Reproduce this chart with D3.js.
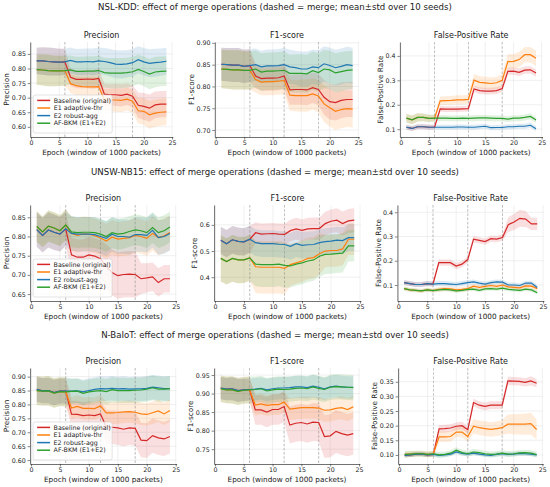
<!DOCTYPE html>
<html>
<head>
<meta charset="utf-8">
<script src="https://cdn.jsdelivr.net/npm/d3@7/dist/d3.min.js"></script>
<style>
body { margin: 0; background: #fff; }
text { font-family: "DejaVu Sans", sans-serif; fill: #222; }
</style>
</head>
<body>
<svg width="550" height="487"></svg>
<script>
var epochs = [1,2,3,4,5,6,7,8,9,10,11,12,13,14,15,16,17,18,19,20,21,22,23,24];
var mergeEpochs = [6, 12, 18];
var xTicks = [0, 5, 10, 15, 20, 25];
var seriesNames = ["Baseline (original)", "E1 adaptive-thr", "E2 robust-agg", "AF-BKM (E1+E2)"];
var seriesColors = ["#d62728", "#ff7f0e", "#1f77b4", "#2ca02c"];
var datasets = ["NSL-KDD", "UNSW-NB15", "N-BaIoT"];
var metrics = ["Precision", "F1-score", "False-Positive Rate"];

// each panel: [baseline, e1, e2, af-bkm]
var nslPrecMean = [
  [0.826,0.826,0.824,0.823,0.822,0.823,0.770,0.763,0.763,0.764,0.763,0.766,0.712,0.710,0.710,0.708,0.712,0.705,0.674,0.670,0.664,0.675,0.678,0.678],
  [0.796,0.795,0.793,0.792,0.792,0.793,0.748,0.741,0.738,0.737,0.737,0.738,0.693,0.692,0.692,0.691,0.695,0.688,0.655,0.653,0.641,0.647,0.650,0.651],
  [0.826,0.826,0.824,0.823,0.822,0.823,0.828,0.823,0.823,0.824,0.823,0.826,0.824,0.820,0.815,0.814,0.816,0.820,0.830,0.823,0.818,0.820,0.822,0.825],
  [0.796,0.795,0.793,0.792,0.792,0.793,0.795,0.790,0.790,0.791,0.791,0.793,0.786,0.784,0.784,0.784,0.786,0.789,0.797,0.790,0.781,0.788,0.790,0.791]
];
var nslPrecSd = [
  [0.045,0.047,0.048,0.047,0.046,0.045,0.030,0.031,0.031,0.032,0.032,0.033,0.036,0.037,0.038,0.038,0.037,0.038,0.044,0.046,0.047,0.046,0.045,0.045],
  [0.052,0.053,0.054,0.053,0.052,0.052,0.032,0.032,0.033,0.033,0.034,0.034,0.038,0.039,0.040,0.040,0.039,0.040,0.044,0.046,0.048,0.047,0.046,0.046],
  [0.045,0.047,0.048,0.047,0.046,0.045,0.044,0.044,0.045,0.045,0.046,0.046,0.046,0.047,0.048,0.048,0.047,0.047,0.046,0.047,0.048,0.048,0.047,0.046],
  [0.052,0.053,0.054,0.053,0.052,0.052,0.050,0.050,0.050,0.051,0.051,0.051,0.051,0.052,0.052,0.052,0.051,0.051,0.050,0.051,0.052,0.052,0.051,0.051]
];
var nslF1Mean = [
  [0.851,0.850,0.849,0.849,0.846,0.848,0.824,0.818,0.819,0.819,0.820,0.824,0.792,0.793,0.793,0.792,0.797,0.793,0.775,0.765,0.763,0.768,0.770,0.770],
  [0.840,0.839,0.838,0.838,0.837,0.837,0.816,0.810,0.811,0.811,0.812,0.814,0.780,0.779,0.779,0.779,0.783,0.778,0.760,0.751,0.743,0.747,0.749,0.748],
  [0.851,0.850,0.849,0.849,0.846,0.848,0.850,0.845,0.847,0.847,0.848,0.850,0.845,0.843,0.840,0.840,0.845,0.843,0.852,0.848,0.843,0.846,0.850,0.848],
  [0.840,0.839,0.838,0.838,0.837,0.837,0.840,0.833,0.835,0.835,0.836,0.837,0.830,0.830,0.830,0.829,0.836,0.832,0.840,0.838,0.831,0.834,0.837,0.838]
];
var nslF1Sd = [
  [0.038,0.038,0.039,0.039,0.038,0.038,0.028,0.028,0.029,0.029,0.029,0.030,0.034,0.035,0.035,0.035,0.035,0.036,0.040,0.041,0.041,0.041,0.040,0.040],
  [0.044,0.044,0.045,0.045,0.044,0.044,0.030,0.030,0.031,0.031,0.031,0.032,0.036,0.036,0.037,0.037,0.036,0.037,0.042,0.043,0.043,0.043,0.042,0.042],
  [0.038,0.038,0.039,0.039,0.038,0.038,0.037,0.037,0.038,0.038,0.038,0.038,0.039,0.039,0.040,0.040,0.040,0.040,0.040,0.041,0.041,0.041,0.041,0.041],
  [0.044,0.044,0.045,0.045,0.044,0.044,0.043,0.043,0.043,0.043,0.043,0.043,0.043,0.044,0.044,0.044,0.044,0.044,0.044,0.044,0.045,0.045,0.044,0.044]
];
var nslFprMean = [
  [0.108,0.103,0.110,0.110,0.108,0.108,0.183,0.182,0.182,0.182,0.183,0.184,0.265,0.258,0.256,0.256,0.258,0.266,0.337,0.338,0.333,0.342,0.343,0.330],
  [0.145,0.138,0.148,0.148,0.144,0.145,0.216,0.217,0.218,0.220,0.220,0.222,0.301,0.292,0.290,0.287,0.290,0.300,0.377,0.378,0.385,0.405,0.405,0.390],
  [0.108,0.103,0.110,0.110,0.108,0.108,0.108,0.108,0.108,0.109,0.109,0.108,0.108,0.110,0.112,0.106,0.107,0.107,0.110,0.110,0.112,0.112,0.116,0.102],
  [0.145,0.138,0.148,0.148,0.144,0.145,0.145,0.145,0.144,0.144,0.145,0.144,0.145,0.146,0.146,0.145,0.144,0.144,0.141,0.145,0.145,0.148,0.152,0.138]
];
var nslFprSd = [
  [0.010,0.010,0.010,0.010,0.010,0.010,0.012,0.012,0.012,0.012,0.012,0.012,0.014,0.014,0.014,0.014,0.014,0.014,0.014,0.015,0.015,0.015,0.015,0.014],
  [0.018,0.018,0.017,0.016,0.015,0.014,0.018,0.018,0.018,0.019,0.019,0.019,0.025,0.025,0.025,0.025,0.025,0.025,0.030,0.030,0.031,0.032,0.032,0.031],
  [0.010,0.010,0.010,0.010,0.010,0.010,0.010,0.010,0.010,0.010,0.010,0.010,0.010,0.010,0.010,0.010,0.010,0.010,0.010,0.010,0.010,0.010,0.010,0.010],
  [0.018,0.018,0.017,0.016,0.015,0.014,0.013,0.013,0.012,0.012,0.012,0.012,0.012,0.012,0.012,0.012,0.012,0.012,0.012,0.012,0.012,0.012,0.012,0.012]
];
var unswPrecMean = [
  [0.818,0.803,0.817,0.811,0.806,0.820,0.752,0.746,0.746,0.752,0.749,0.742,0.722,0.706,0.698,0.701,0.702,0.701,0.690,0.692,0.695,0.680,0.690,0.690],
  [0.826,0.812,0.827,0.822,0.815,0.830,0.808,0.803,0.807,0.806,0.802,0.796,0.788,0.798,0.793,0.795,0.797,0.803,0.800,0.795,0.808,0.797,0.802,0.810],
  [0.818,0.803,0.817,0.811,0.806,0.820,0.808,0.806,0.806,0.806,0.805,0.800,0.795,0.806,0.800,0.800,0.798,0.805,0.805,0.803,0.816,0.797,0.800,0.808],
  [0.826,0.812,0.827,0.822,0.815,0.830,0.812,0.810,0.811,0.811,0.810,0.806,0.800,0.810,0.806,0.808,0.813,0.817,0.815,0.810,0.823,0.810,0.815,0.825]
];
var unswPrecSd = [
  [0.045,0.045,0.046,0.046,0.045,0.045,0.045,0.046,0.046,0.047,0.047,0.048,0.058,0.060,0.060,0.060,0.060,0.060,0.040,0.038,0.037,0.037,0.036,0.036],
  [0.040,0.040,0.041,0.041,0.040,0.040,0.045,0.045,0.045,0.045,0.045,0.045,0.045,0.045,0.045,0.045,0.045,0.045,0.045,0.045,0.045,0.045,0.045,0.045],
  [0.045,0.045,0.046,0.046,0.045,0.045,0.045,0.045,0.045,0.045,0.045,0.045,0.045,0.045,0.045,0.045,0.045,0.045,0.045,0.045,0.045,0.045,0.045,0.045],
  [0.040,0.040,0.041,0.041,0.040,0.040,0.040,0.040,0.040,0.040,0.040,0.040,0.040,0.040,0.040,0.040,0.040,0.040,0.040,0.040,0.040,0.040,0.040,0.040]
];
var unswF1Mean = [
  [0.541,0.528,0.543,0.537,0.535,0.545,0.570,0.565,0.566,0.567,0.565,0.564,0.578,0.585,0.579,0.585,0.586,0.586,0.605,0.614,0.618,0.605,0.615,0.618],
  [0.472,0.460,0.472,0.466,0.466,0.474,0.440,0.438,0.438,0.438,0.438,0.434,0.448,0.455,0.462,0.472,0.475,0.490,0.500,0.502,0.502,0.508,0.545,0.545],
  [0.541,0.528,0.543,0.537,0.535,0.545,0.532,0.528,0.528,0.528,0.526,0.525,0.518,0.528,0.522,0.524,0.525,0.532,0.536,0.538,0.542,0.540,0.551,0.551],
  [0.472,0.460,0.472,0.466,0.466,0.474,0.450,0.448,0.448,0.448,0.450,0.445,0.443,0.450,0.455,0.462,0.466,0.480,0.487,0.488,0.490,0.492,0.520,0.520]
];
var unswF1Sd = [
  [0.052,0.052,0.053,0.053,0.052,0.052,0.040,0.040,0.040,0.040,0.040,0.040,0.042,0.042,0.042,0.042,0.042,0.042,0.045,0.045,0.046,0.046,0.046,0.046],
  [0.088,0.088,0.089,0.089,0.088,0.088,0.100,0.100,0.100,0.100,0.100,0.100,0.082,0.080,0.080,0.080,0.080,0.080,0.062,0.062,0.062,0.062,0.060,0.060],
  [0.052,0.052,0.053,0.053,0.052,0.052,0.051,0.051,0.051,0.051,0.051,0.051,0.051,0.051,0.051,0.051,0.051,0.051,0.051,0.051,0.051,0.051,0.051,0.051],
  [0.088,0.088,0.089,0.089,0.088,0.088,0.085,0.085,0.085,0.085,0.085,0.085,0.082,0.082,0.082,0.080,0.080,0.078,0.075,0.075,0.074,0.074,0.060,0.060]
];
var unswFprMean = [
  [0.110,0.106,0.102,0.102,0.106,0.104,0.192,0.192,0.192,0.178,0.186,0.205,0.289,0.284,0.279,0.291,0.289,0.296,0.349,0.360,0.375,0.372,0.352,0.352],
  [0.085,0.080,0.078,0.076,0.080,0.077,0.082,0.085,0.084,0.080,0.082,0.085,0.095,0.090,0.094,0.098,0.094,0.100,0.092,0.090,0.088,0.096,0.095,0.085],
  [0.110,0.106,0.102,0.102,0.106,0.104,0.106,0.106,0.104,0.102,0.106,0.110,0.113,0.108,0.104,0.110,0.113,0.112,0.100,0.100,0.098,0.108,0.108,0.090],
  [0.085,0.080,0.078,0.076,0.080,0.077,0.080,0.082,0.080,0.076,0.078,0.082,0.083,0.078,0.084,0.085,0.083,0.087,0.082,0.080,0.078,0.083,0.080,0.068]
];
var unswFprSd = [
  [0.010,0.010,0.010,0.010,0.010,0.010,0.013,0.013,0.013,0.013,0.013,0.013,0.013,0.013,0.013,0.013,0.013,0.013,0.030,0.033,0.035,0.033,0.025,0.025],
  [0.008,0.008,0.008,0.008,0.008,0.008,0.010,0.010,0.010,0.010,0.010,0.010,0.010,0.010,0.010,0.010,0.010,0.010,0.010,0.010,0.010,0.010,0.010,0.010],
  [0.010,0.010,0.010,0.010,0.010,0.010,0.010,0.010,0.010,0.010,0.010,0.010,0.010,0.010,0.010,0.010,0.010,0.010,0.010,0.010,0.010,0.010,0.010,0.010],
  [0.008,0.008,0.008,0.008,0.008,0.008,0.008,0.008,0.008,0.008,0.008,0.008,0.008,0.008,0.008,0.008,0.008,0.008,0.008,0.008,0.008,0.008,0.008,0.008]
];
var nbaPrecMean = [
  [0.854,0.849,0.850,0.843,0.848,0.848,0.765,0.764,0.760,0.762,0.760,0.766,0.720,0.718,0.716,0.711,0.716,0.714,0.672,0.670,0.688,0.680,0.676,0.685],
  [0.850,0.848,0.849,0.841,0.846,0.845,0.787,0.793,0.786,0.786,0.785,0.795,0.770,0.770,0.771,0.773,0.774,0.772,0.766,0.764,0.770,0.777,0.766,0.778],
  [0.854,0.849,0.850,0.843,0.848,0.848,0.848,0.849,0.845,0.850,0.854,0.857,0.856,0.858,0.856,0.857,0.855,0.856,0.856,0.858,0.862,0.860,0.857,0.857],
  [0.850,0.848,0.849,0.841,0.846,0.845,0.847,0.848,0.840,0.845,0.848,0.850,0.846,0.853,0.850,0.850,0.850,0.851,0.852,0.855,0.860,0.855,0.855,0.857]
];
var nbaPrecSd = [
  [0.045,0.045,0.046,0.046,0.045,0.045,0.048,0.048,0.048,0.049,0.049,0.050,0.060,0.060,0.061,0.061,0.061,0.062,0.062,0.062,0.062,0.062,0.061,0.061],
  [0.052,0.052,0.053,0.053,0.052,0.052,0.040,0.040,0.040,0.040,0.040,0.040,0.040,0.040,0.040,0.040,0.040,0.040,0.040,0.040,0.040,0.040,0.040,0.040],
  [0.045,0.045,0.046,0.046,0.045,0.045,0.044,0.044,0.044,0.044,0.044,0.044,0.044,0.044,0.044,0.044,0.044,0.044,0.044,0.044,0.044,0.044,0.044,0.044],
  [0.052,0.052,0.053,0.053,0.052,0.052,0.045,0.045,0.045,0.045,0.045,0.045,0.045,0.045,0.045,0.045,0.045,0.045,0.045,0.045,0.045,0.045,0.045,0.045]
];
var nbaF1Mean = [
  [0.915,0.912,0.913,0.908,0.910,0.911,0.856,0.856,0.850,0.857,0.857,0.865,0.815,0.820,0.822,0.818,0.823,0.822,0.784,0.786,0.798,0.792,0.788,0.792],
  [0.913,0.910,0.910,0.906,0.909,0.910,0.869,0.872,0.868,0.870,0.870,0.877,0.858,0.860,0.862,0.862,0.862,0.861,0.855,0.856,0.860,0.862,0.857,0.864],
  [0.915,0.912,0.913,0.908,0.910,0.911,0.912,0.914,0.910,0.913,0.915,0.915,0.916,0.918,0.918,0.916,0.920,0.917,0.913,0.918,0.920,0.918,0.917,0.917],
  [0.913,0.910,0.910,0.906,0.909,0.910,0.911,0.913,0.907,0.910,0.912,0.911,0.912,0.914,0.915,0.913,0.918,0.914,0.911,0.917,0.919,0.918,0.917,0.916]
];
var nbaF1Sd = [
  [0.030,0.030,0.031,0.031,0.030,0.030,0.040,0.040,0.041,0.041,0.041,0.042,0.050,0.050,0.050,0.051,0.051,0.051,0.058,0.058,0.058,0.058,0.057,0.057],
  [0.036,0.036,0.037,0.037,0.036,0.036,0.028,0.028,0.028,0.028,0.028,0.028,0.030,0.030,0.030,0.030,0.030,0.030,0.031,0.031,0.031,0.031,0.031,0.031],
  [0.030,0.030,0.031,0.031,0.030,0.030,0.030,0.030,0.030,0.030,0.030,0.030,0.030,0.030,0.030,0.030,0.030,0.030,0.030,0.030,0.030,0.030,0.030,0.030],
  [0.036,0.036,0.037,0.037,0.036,0.036,0.035,0.035,0.035,0.035,0.035,0.035,0.034,0.034,0.034,0.034,0.034,0.034,0.034,0.034,0.034,0.034,0.034,0.034]
];
var nbaFprMean = [
  [0.098,0.100,0.103,0.103,0.100,0.102,0.189,0.190,0.192,0.198,0.200,0.186,0.279,0.270,0.266,0.270,0.270,0.270,0.353,0.352,0.351,0.348,0.353,0.345],
  [0.102,0.103,0.104,0.104,0.102,0.104,0.162,0.162,0.163,0.178,0.178,0.163,0.198,0.193,0.190,0.187,0.190,0.193,0.205,0.205,0.205,0.205,0.207,0.187],
  [0.098,0.100,0.103,0.103,0.100,0.102,0.098,0.100,0.103,0.110,0.105,0.103,0.106,0.103,0.100,0.098,0.102,0.104,0.102,0.103,0.105,0.104,0.103,0.100],
  [0.102,0.103,0.104,0.104,0.102,0.104,0.100,0.102,0.106,0.116,0.108,0.104,0.110,0.108,0.104,0.102,0.103,0.106,0.103,0.104,0.107,0.108,0.106,0.101]
];
var nbaFprSd = [
  [0.007,0.007,0.007,0.007,0.007,0.007,0.013,0.013,0.013,0.013,0.013,0.013,0.013,0.013,0.013,0.013,0.013,0.013,0.014,0.014,0.014,0.014,0.016,0.014],
  [0.010,0.010,0.010,0.010,0.010,0.010,0.018,0.018,0.018,0.018,0.018,0.018,0.025,0.025,0.025,0.025,0.025,0.025,0.033,0.034,0.035,0.036,0.038,0.034],
  [0.007,0.007,0.007,0.007,0.007,0.007,0.007,0.007,0.007,0.007,0.007,0.007,0.007,0.007,0.007,0.007,0.007,0.007,0.007,0.007,0.007,0.007,0.007,0.007],
  [0.010,0.010,0.010,0.010,0.010,0.010,0.010,0.010,0.010,0.010,0.010,0.010,0.010,0.010,0.010,0.010,0.010,0.010,0.010,0.010,0.010,0.010,0.010,0.010]
];

var nslPrecTicks = [0.60, 0.65, 0.70, 0.75, 0.80, 0.85];
var nslF1Ticks = [0.70, 0.75, 0.80, 0.85, 0.90];
var nslFprTicks = [0.1, 0.2, 0.3, 0.4];
var unswPrecTicks = [0.65, 0.70, 0.75, 0.80, 0.85];
var unswF1Ticks = [0.4, 0.5, 0.6];
var unswFprTicks = [0.1, 0.2, 0.3, 0.4];
var nbaPrecTicks = [0.60, 0.65, 0.70, 0.75, 0.80, 0.85, 0.90];
var nbaF1Ticks = [0.75, 0.80, 0.85, 0.90, 0.95];
var nbaFprTicks = [0.10, 0.15, 0.20, 0.25, 0.30, 0.35];

var means = [[nslPrecMean, nslF1Mean, nslFprMean], [unswPrecMean, unswF1Mean, unswFprMean], [nbaPrecMean, nbaF1Mean, nbaFprMean]];
var sds = [[nslPrecSd, nslF1Sd, nslFprSd], [unswPrecSd, unswF1Sd, unswFprSd], [nbaPrecSd, nbaF1Sd, nbaFprSd]];
var ticks = [[nslPrecTicks, nslF1Ticks, nslFprTicks], [unswPrecTicks, unswF1Ticks, unswFprTicks], [nbaPrecTicks, nbaF1Ticks, nbaFprTicks]];
var tickFormats = [[".2f", ".2f", ".1f"], [".2f", ".1f", ".1f"], [".2f", ".2f", ".2f"]];

// layout (pixels)
var yDomains = [[[0.565, 0.891], [0.684, 0.902], [0.068, 0.457]],
                [[0.632, 0.882], [0.309, 0.676], [0.034, 0.430]],
                [[0.586, 0.931], [0.710, 0.969], [0.069, 0.397]]];
var rowTop = [42, 205, 368], rowBottom = [137, 301, 464];
var colLeft = [[30.2, 214.8, 399.9], [30.1, 214.1, 397.4], [30.1, 214.1, 398.1]];
var colRight = [[172.9, 359.2, 542.5], [176.6, 360.9, 543.9], [176.6, 359.9, 543.2]];
var supTitleY = [10, 175, 338];

var svg = d3.select("svg");
svg.append("rect").attr("width", 550).attr("height", 487).attr("fill", "#fff");

function drawPanel(r, c, idx) {
    var g = svg.append("g");
    var x = d3.scaleLinear().domain([-0.15, 25.15]).range([colLeft[r][c], colRight[r][c]]);
    var y = d3.scaleLinear().domain(yDomains[r][c]).range([rowBottom[r], rowTop[r]]);
    var m = means[r][c], s = sds[r][c];

    var clipId = "clip" + idx;
    svg.append("clipPath").attr("id", clipId).append("rect")
        .attr("x", x.range()[0]).attr("y", rowTop[r])
        .attr("width", x.range()[1] - x.range()[0]).attr("height", rowBottom[r] - rowTop[r]);

    // grid
    g.append("g").selectAll("line").data(xTicks).join("line")
        .attr("x1", function(d) { return x(d); }).attr("x2", function(d) { return x(d); })
        .attr("y1", rowTop[r]).attr("y2", rowBottom[r])
        .attr("stroke", "#e6e6e6").attr("stroke-width", 0.6);
    g.append("g").selectAll("line").data(ticks[r][c]).join("line")
        .attr("x1", x.range()[0]).attr("x2", x.range()[1])
        .attr("y1", function(d) { return y(d); }).attr("y2", function(d) { return y(d); })
        .attr("stroke", "#e6e6e6").attr("stroke-width", 0.6);

    var plot = g.append("g").attr("clip-path", "url(#" + clipId + ")");

    // bands
    seriesNames.forEach(function(name, k) {
        var area = d3.area()
            .x(function(d, i) { return x(epochs[i]); })
            .y0(function(d, i) { return y(d - s[k][i]); })
            .y1(function(d, i) { return y(d + s[k][i]); });
        plot.append("path").datum(m[k]).attr("d", area)
            .attr("fill", seriesColors[k]).attr("fill-opacity", 0.15);
    });

    // merge markers
    plot.selectAll(".merge").data(mergeEpochs).join("line")
        .attr("x1", function(d) { return x(d); }).attr("x2", function(d) { return x(d); })
        .attr("y1", rowTop[r]).attr("y2", rowBottom[r])
        .attr("stroke", "#888").attr("stroke-width", 0.7)
        .attr("stroke-dasharray", "2.6,1.6").attr("opacity", 0.8);

    // lines
    seriesNames.forEach(function(name, k) {
        var line = d3.line()
            .x(function(d, i) { return x(epochs[i]); })
            .y(function(d) { return y(d); });
        plot.append("path").datum(m[k]).attr("d", line)
            .attr("fill", "none").attr("stroke", seriesColors[k]).attr("stroke-width", 1.2);
    });

    // axes
    var xa = g.append("g").attr("transform", "translate(0," + rowBottom[r] + ")")
        .call(d3.axisBottom(x).tickValues(xTicks).tickSize(2.5).tickSizeOuter(0).tickPadding(1.5));
    var ya = g.append("g").attr("transform", "translate(" + x.range()[0] + ",0)")
        .call(d3.axisLeft(y).tickValues(ticks[r][c]).tickFormat(d3.format(tickFormats[r][c]))
            .tickSize(2.5).tickSizeOuter(0).tickPadding(1.8));
    [xa, ya].forEach(function(a) {
        a.selectAll("text").attr("font-size", 6.3).attr("fill", "#222")
            .attr("font-family", "DejaVu Sans");
        a.selectAll("line").attr("stroke", "#333").attr("stroke-width", 0.6);
        a.select(".domain").attr("stroke", "#333").attr("stroke-width", 0.7);
    });

    var cx = (x.range()[0] + x.range()[1]) / 2;
    var cy = (rowTop[r] + rowBottom[r]) / 2;
    g.append("text").attr("x", cx).attr("y", rowTop[r] - 4.3)
        .attr("text-anchor", "middle").attr("font-size", 8).text(metrics[c]);
    g.append("text").attr("x", cx).attr("y", rowBottom[r] + 18.2)
        .attr("text-anchor", "middle").attr("font-size", 7.3).text("Epoch (window of 1000 packets)");
    var bb = ya.node().getBBox();
    var lxPos = x.range()[0] + bb.x - 2.5;
    g.append("text").attr("transform", "translate(" + lxPos + "," + cy + ") rotate(-90)")
        .attr("text-anchor", "middle").attr("font-size", 7.3).text(metrics[c]);

    if (c === 0) {
        var lx = x.range()[0] + 3, lh = 38, lw = 79;
        var ly = rowBottom[r] - 4 - lh;
        var leg = g.append("g");
        leg.append("rect").attr("x", lx).attr("y", ly).attr("width", lw).attr("height", lh)
            .attr("rx", 2).attr("fill", "#fff").attr("fill-opacity", 0.8)
            .attr("stroke", "#d0d0d0").attr("stroke-width", 0.6);
        seriesNames.forEach(function(name, k) {
            var ey = ly + 5.4 + k * 7.6;
            leg.append("line").attr("x1", lx + 4).attr("x2", lx + 17)
                .attr("y1", ey).attr("y2", ey)
                .attr("stroke", seriesColors[k]).attr("stroke-width", 1.5);
            leg.append("text").attr("x", lx + 20.5).attr("y", ey + 2.2)
                .attr("font-size", 6.3).text(name);
        });
    }
}

datasets.forEach(function(ds, r) {
    svg.append("text").attr("x", 275).attr("y", supTitleY[r])
        .attr("text-anchor", "middle").attr("font-size", 8.6)
        .text(ds + ": effect of merge operations (dashed = merge; mean\u00b1std over 10 seeds)");
    metrics.forEach(function(mt, c) { drawPanel(r, c, r * 3 + c); });
});
</script>
</body>
</html>
